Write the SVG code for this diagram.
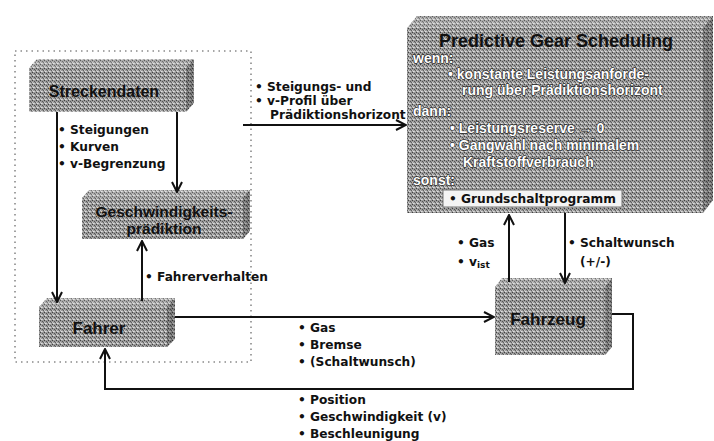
<svg xmlns="http://www.w3.org/2000/svg" width="714" height="441" viewBox="0 0 714 441">
  <defs>
    <!-- halftone-like grain used on all block faces -->
    <pattern id="grain" width="4" height="4" patternUnits="userSpaceOnUse">
      <rect width="4" height="4" fill="#9a9a9a"/>
      <rect x="0" y="0" width="1" height="1" fill="#404040"/>
      <rect x="2" y="1" width="1" height="1" fill="#555555"/>
      <rect x="1" y="3" width="1" height="1" fill="#e0e0e0"/>
      <rect x="3" y="2" width="1" height="1" fill="#606060"/>
      <rect x="2" y="3" width="1" height="1" fill="#cccccc"/>
      <rect x="0" y="2" width="1" height="1" fill="#c8c8c8"/>
    </pattern>
    <marker id="arr" viewBox="0 0 12 12" refX="11" refY="6" markerWidth="12" markerHeight="12" markerUnits="userSpaceOnUse" orient="auto">
      <path d="M1,1 L11,6 L1,11" fill="none" stroke="#111" stroke-width="2"/>
    </marker>
  </defs>
  <style>
    .face { fill: url(#grain); }
    .top { fill: #ffffff; fill-opacity: 0.15; }
    .side { fill: #000000; fill-opacity: 0.22; }
    .title { font-family: "Liberation Sans", Arial, sans-serif; font-weight: bold; fill: #111; }
    .lbl { font-family: "DejaVu Sans", Verdana, sans-serif; font-weight: bold; font-size: 12.2px; fill: #111; }
    .rule { font-family: "Liberation Sans", Arial, sans-serif; font-weight: bold; font-size: 14px; fill: #ffffff; stroke: #2a2a2a; stroke-width: 1.3px; paint-order: stroke fill; stroke-linejoin: round; }
    .conn { fill: none; stroke: #111; stroke-width: 2; }
    .frame { fill: none; stroke: #8a8a8a; stroke-width: 1.6; stroke-dasharray: 1.5 4; }
  </style>

  <rect width="714" height="441" fill="#ffffff"/>

  <!-- dotted boundary around the driver-side blocks -->
  <rect class="frame" x="15" y="51" width="236" height="311"/>

  <!-- Streckendaten -->
  <g id="streckendaten">
    <path class="face" d="M29,68 L37,59 L194,59 L186,68 Z M186,68 L194,59 L194,103 L186,112 Z"/>
    <rect class="face" x="29" y="68" width="157" height="44"/>
    <path class="top" d="M29,68 L37,59 L194,59 L186,68 Z"/>
    <path class="side" d="M186,68 L194,59 L194,103 L186,112 Z"/>
    <text class="title" x="104" y="97" font-size="16" text-anchor="middle">Streckendaten</text>
  </g>

  <!-- Geschwindigkeitsprädiktion -->
  <g id="geschwindigkeitspraediktion">
    <path class="face" d="M82,198 L89,190 L250,190 L243,198 Z M243,198 L250,190 L250,231 L243,239 Z"/>
    <rect class="face" x="82" y="198" width="161" height="41"/>
    <path class="top" d="M82,198 L89,190 L250,190 L243,198 Z"/>
    <path class="side" d="M243,198 L250,190 L250,231 L243,239 Z"/>
    <text class="title" x="164" y="217" font-size="15.5" text-anchor="middle">Geschwindigkeits-</text>
    <text class="title" x="164" y="234" font-size="15.5" text-anchor="middle">prädiktion</text>
  </g>

  <!-- Fahrer -->
  <g id="fahrer">
    <path class="face" d="M39,307 L47,298 L175,298 L167,307 Z M167,307 L175,298 L175,339 L167,347 Z"/>
    <rect class="face" x="39" y="307" width="128" height="40"/>
    <path class="top" d="M39,307 L47,298 L175,298 L167,307 Z"/>
    <path class="side" d="M167,307 L175,298 L175,339 L167,347 Z"/>
    <text class="title" x="99" y="334" font-size="17" text-anchor="middle">Fahrer</text>
  </g>

  <!-- Fahrzeug -->
  <g id="fahrzeug">
    <path class="face" d="M495,287 L502,278 L612,278 L605,287 Z M605,287 L612,278 L612,347 L605,355 Z"/>
    <rect class="face" x="495" y="287" width="110" height="68"/>
    <path class="top" d="M495,287 L502,278 L612,278 L605,287 Z"/>
    <path class="side" d="M605,287 L612,278 L612,347 L605,355 Z"/>
    <text class="title" x="548" y="325" font-size="17" font-weight="normal" text-anchor="middle">Fahrzeug</text>
  </g>

  <!-- Predictive Gear Scheduling -->
  <g id="predictive-gear-scheduling">
    <path class="face" d="M407,28 L417,16 L713,16 L703,28 Z M703,28 L713,16 L713,200 L703,213 Z"/>
    <rect class="face" x="407" y="28" width="296" height="185"/>
    <path class="top" d="M407,28 L417,16 L713,16 L703,28 Z"/>
    <path class="side" d="M703,28 L713,16 L713,200 L703,213 Z"/>
    <text class="title" x="556" y="47" font-size="18" text-anchor="middle">Predictive Gear Scheduling</text>
    <text class="rule" x="413" y="63">wenn:</text>
    <text class="rule" x="448" y="79">• konstante Leistungsanforde-</text>
    <text class="rule" x="462" y="95">rung über Prädiktionshorizont</text>
    <text class="rule" x="413" y="116">dann:</text>
    <text class="rule" x="450" y="133">• Leistungsreserve → 0</text>
    <text class="rule" x="450" y="150">• Gangwahl nach minimalem</text>
    <text class="rule" x="463" y="167">Kraftstoffverbrauch</text>
    <text class="rule" x="413" y="185">sonst:</text>
    <rect x="443" y="190" width="179" height="17" fill="#f4f4f4" stroke="#777" stroke-width="1"/>
    <text class="lbl" x="449" y="203">• Grundschaltprogramm</text>
  </g>

  <!-- connectors -->
  <g id="connectors">
    <line class="conn" x1="57" y1="112" x2="57" y2="302" marker-end="url(#arr)"/>
    <line class="conn" x1="177" y1="112" x2="177" y2="192" marker-end="url(#arr)"/>
    <line class="conn" x1="142" y1="301" x2="142" y2="241" marker-end="url(#arr)"/>
    <line class="conn" x1="175" y1="317" x2="494" y2="317" marker-end="url(#arr)"/>
    <path class="conn" d="M612,314 H633 V389 H105 V349" marker-end="url(#arr)"/>
    <line class="conn" x1="243" y1="125" x2="406" y2="125" marker-end="url(#arr)"/>
    <line class="conn" x1="509" y1="282" x2="509" y2="215" marker-end="url(#arr)"/>
    <line class="conn" x1="565" y1="213" x2="565" y2="283" marker-end="url(#arr)"/>
  </g>

  <!-- connector labels -->
  <g id="labels">
    <text class="lbl" x="58" y="134">• Steigungen</text>
    <text class="lbl" x="58" y="151">• Kurven</text>
    <text class="lbl" x="58" y="168">• v-Begrenzung</text>
    <text class="lbl" x="145" y="281">• Fahrerverhalten</text>
    <text class="lbl" x="255" y="91">• Steigungs- und</text>
    <text class="lbl" x="255" y="105">• v-Profil über</text>
    <text class="lbl" x="270" y="119">Prädiktionshorizont</text>
    <text class="lbl" x="298" y="332">• Gas</text>
    <text class="lbl" x="298" y="349">• Bremse</text>
    <text class="lbl" x="298" y="366">• (Schaltwunsch)</text>
    <text class="lbl" x="298" y="404">• Position</text>
    <text class="lbl" x="298" y="421">• Geschwindigkeit (v)</text>
    <text class="lbl" x="298" y="438">• Beschleunigung</text>
    <text class="lbl" x="457" y="247">• Gas</text>
    <text class="lbl" x="457" y="266">• v<tspan font-size="9" dy="2">ist</tspan></text>
    <text class="lbl" x="568" y="247">• Schaltwunsch</text>
    <text class="lbl" x="580" y="266">(+/-)</text>
  </g>
</svg>
